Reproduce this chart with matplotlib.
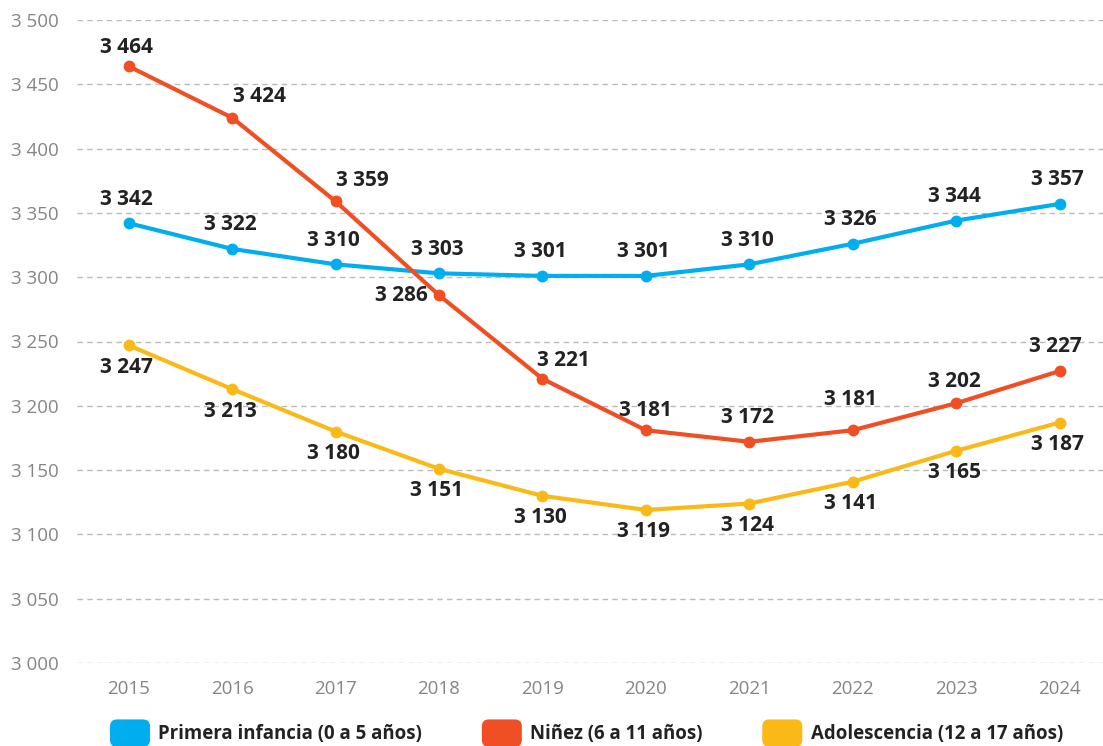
import matplotlib.pyplot as plt
from matplotlib.patches import FancyBboxPatch, Patch
from matplotlib.legend_handler import HandlerPatch

plt.rcParams['font.family'] = ['Open Sans', 'DejaVu Sans']

years = [2015, 2016, 2017, 2018, 2019, 2020, 2021, 2022, 2023, 2024]
primera = [3342, 3322, 3310, 3303, 3301, 3301, 3310, 3326, 3344, 3357]
ninez = [3464, 3424, 3359, 3286, 3221, 3181, 3172, 3181, 3202, 3227]
adolesc = [3247, 3213, 3180, 3151, 3130, 3119, 3124, 3141, 3165, 3187]

names = ['Primera infancia (0 a 5 años)', 'Niñez (6 a 11 años)', 'Adolescencia (12 a 17 años)']
colors = ['#00AEEF', '#F04E23', '#FBB917']

# label offsets in pixels (dx, dy), positive dy = up
off_primera = [(-2, 24)] * 10
off_ninez = [(-2, 19), (27, 21), (27, 21), (-38, 0), (21, 18), (0, 20), (-2, 24), (-2, 31), (-2, 22), (-4, 25)]
off_adolesc = [(-2, -22)] * 10


def fmt(v):
    return f"{v:,}".replace(",", " ")


class RoundHandler(HandlerPatch):
    def create_artists(self, legend, orig_handle, xdescent, ydescent, width, height, fontsize, trans):
        p = FancyBboxPatch((-xdescent + 5, -ydescent + 2), width - 10, height - 4,
                           boxstyle="round,pad=5", mutation_aspect=1,
                           facecolor=orig_handle.get_facecolor(), edgecolor='none',
                           transform=trans)
        return [p]


fig = plt.figure(figsize=(11.03, 7.46), dpi=100)
ax = fig.add_axes([77 / 1103, 1 - 663 / 746, 1 - 77 / 1103, (663 - 20) / 746])

for vals, offs, c in [(primera, off_primera, colors[0]), (ninez, off_ninez, colors[1]), (adolesc, off_adolesc, colors[2])]:
    ax.plot(years, vals, color=c, lw=3, marker='o', ms=7.5, zorder=3, clip_on=False)
    for x, v, (dx, dy) in zip(years, vals, offs):
        ax.annotate(fmt(v), (x, v), xytext=(dx * 0.72, dy * 0.72), textcoords='offset points',
                    ha='center', va='center', fontsize=15, fontweight='bold', color='#222222', zorder=4)

ax.set_xlim(2014.5, 2024.42)
ax.set_ylim(3000, 3500)
ax.set_yticks(range(3000, 3501, 50))
ax.set_yticklabels([fmt(v) for v in range(3000, 3501, 50)])
ax.set_xticks(years)
ax.yaxis.grid(True, ls=(0, (4, 3)), color='#bbbbbb', lw=1)
ax.set_axisbelow(True)
for s in ax.spines.values():
    s.set_visible(False)
ax.tick_params(length=0, labelsize=13.5, colors='#858585')
ax.tick_params(axis='y', pad=13)
ax.tick_params(axis='x', pad=12)

handles = [Patch(facecolor=c) for c in colors]
fig.legend(handles, names, loc='center left', bbox_to_anchor=(110 / 1103, 1 - 734 / 746),
           ncol=3, frameon=False, prop={'size': 13.4, 'weight': 'bold'},
           handlelength=2.15, handleheight=1.2, handletextpad=0.45, columnspacing=3.2,
           borderpad=0, borderaxespad=0, labelcolor='#222222',
           handler_map={Patch: RoundHandler()})

fig.savefig('out.png', dpi=100)
